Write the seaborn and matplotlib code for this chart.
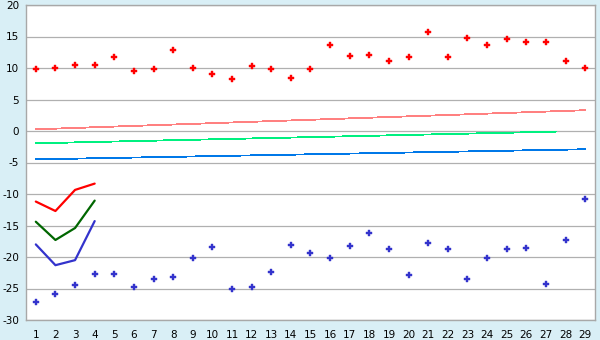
import numpy as np
import pandas as pd
import matplotlib
matplotlib.use("Agg")
import matplotlib.pyplot as plt
import seaborn as sns

days = list(range(1, 30))
high_pts = [9.8, 10.0, 10.4, 10.4, 11.7, 9.5, 9.8, 12.8, 10.0, 9.0, 8.2, 10.3, 9.8, 8.4,
            9.8, 13.6, 11.85, 12.0, 11.05, 11.7, 15.7, 11.7, 14.7, 13.6, 14.55, 14.2, 14.1, 11.05, 10.0]
low_pts = [-27.2, -25.9, -24.5, -22.7, -22.7, -24.8, -23.5, -23.2, -20.2, -18.4, -25.1, -24.8, -22.4, -18.1,
           -19.4, -20.2, -18.3, -16.2, -18.75, -22.9, -17.8, -18.75, -23.5, -20.2, -18.75, -18.6, -24.3, -17.3, -10.8]

short_x = [1, 2, 3, 4]
red_line = [-11.2, -12.7, -9.35, -8.35]
green_line = [-14.4, -17.3, -15.4, -11.05]
blue_line = [-18.0, -21.3, -20.5, -14.3]

pink_x = [1, 29]
pink_y = [0.27, 3.3]
lgreen_x = [1, 27.5]
lgreen_y = [-1.95, -0.1]
lblue_x = [1, 29]
lblue_y = [-4.5, -2.9]

bg = "#D9EFF6"
sns.set_theme(style="white")
plt.rcParams['font.family'] = ['DejaVu Sans']
plt.rcParams['axes.unicode_minus'] = False

fig = plt.figure(figsize=(6, 3.4), dpi=100, facecolor=bg)
ax = fig.add_axes([26/600, 1 - 320/340, (595-26)/600, (320-5)/340])
ax.set_facecolor("white")

ax.set_xlim(0.5, 29.5)
ax.set_ylim(-30, 20)
ax.set_yticks(range(-30, 21, 5))
ax.set_xticks(days)
ax.yaxis.grid(True, color="#B0B0B0", linewidth=0.9)
ax.set_axisbelow(True)

sns.lineplot(x=pink_x, y=pink_y, ax=ax, color="#FF8080", linewidth=0.6, antialiased=False)
sns.lineplot(x=lgreen_x, y=lgreen_y, ax=ax, color="#00F080", linewidth=0.6, antialiased=False)
sns.lineplot(x=lblue_x, y=lblue_y, ax=ax, color="#0078E8", linewidth=0.6, antialiased=False)

sns.lineplot(x=short_x, y=red_line, ax=ax, color="#FF0000", linewidth=1.6)
sns.lineplot(x=short_x, y=green_line, ax=ax, color="#006600", linewidth=1.6)
sns.lineplot(x=short_x, y=blue_line, ax=ax, color="#3333CC", linewidth=1.6)

sns.scatterplot(x=days, y=high_pts, ax=ax, color="#FF0000", marker="P", s=15,
                edgecolor="#FF0000", linewidth=0.3)
sns.scatterplot(x=days, y=low_pts, ax=ax, color="#3333CC", marker="P", s=15,
                edgecolor="#3333CC", linewidth=0.3)

for s in ["left", "bottom", "right", "top"]:
    ax.spines[s].set_color("#A8A8A8")
    ax.spines[s].set_linewidth(1.0)
    ax.spines[s].set_visible(True)

ax.tick_params(axis="both", direction="out", length=4, width=1, color="#707070",
               labelsize=7.5, labelcolor="black", pad=1)
ax.tick_params(axis="x", length=5, pad=2)
ax.set_xlabel("")
ax.set_ylabel("")

fig.savefig("out.png", dpi=100, facecolor=bg)
